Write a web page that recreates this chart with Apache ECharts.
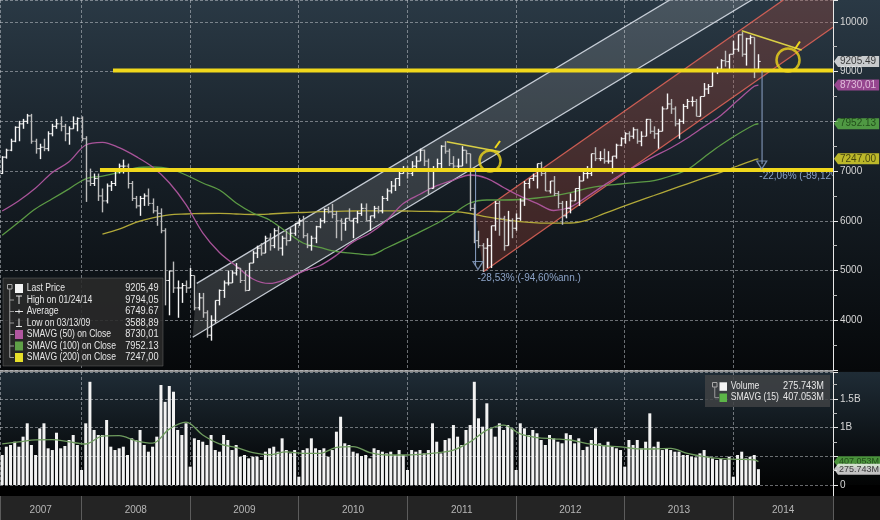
<!DOCTYPE html>
<html><head><meta charset="utf-8">
<script src="https://cdn.jsdelivr.net/npm/echarts@6/dist/echarts.min.js"></script>
<style>html,body{margin:0;padding:0;background:#0a0c0e;}#c{width:880px;height:520px;}</style>
</head><body><div id="c"></div>
<script>
// ================= DATA =================
const barStart = 2007.27;      // decimal year of the first bar
const barStep = 1 / 26;        // two-week bars
const opens = [6950,7280,7420,7600,7880,7950,8000,8110,7600,7450,7480,7450,7750,7900,7950,7900,7750,7850,7950,8060,
7650,6800,6750,6850,6500,6400,6700,6750,7000,7100,7100,6750,6450,6300,6450,6500,6350,6200,6150,5800,
4800,4990,4650,4650,4700,4650,4900,4250,4450,4150,3700,4000,4400,4600,4750,4750,4950,5050,4800,4600,
5150,5350,5450,5350,5650,5500,5800,5450,5650,5600,5750,5950,6000,5700,5500,5650,5880,6000,6230,6180,
6130,6000,5950,6050,6000,6050,6150,6250,6000,6100,6250,6200,6450,6600,6700,6850,6950,7050,6950,7100,
7200,7420,7200,6650,7050,7150,7500,7400,7150,7100,7100,7420,7350,6250,5600,5500,5450,5500,5900,6350,
6050,5500,6000,5850,6050,6400,6750,6850,6900,7150,6950,6600,6800,6550,6350,6100,6250,6400,6650,6800,
6950,6950,7350,7250,7250,7200,7200,7300,7520,7650,7750,7700,7830,7600,7700,8040,7800,7750,7800,8250,
8350,8250,7950,8000,8300,8400,8400,8100,8500,8650,8700,9000,9050,9220,9200,9350,9450,9740,9350,9660,
9690,9050];
const highs = [7300,7450,7650,7900,8010,8050,8150,8150,7650,7550,7650,7800,7950,8050,8100,7950,7900,8100,8080,8100,
7700,7050,6950,6950,6650,6750,6800,7050,7150,7230,7150,6800,6500,6500,6550,6650,6450,6300,6250,5850,
5000,5180,4800,4750,4800,5050,4900,4550,4550,4200,4100,4400,4620,4800,5000,5000,5150,5050,5000,5150,
5400,5500,5550,5700,5750,5850,5890,5700,5800,5850,5950,6050,6100,5750,5700,5900,6050,6250,6280,6340,
6200,6050,6050,6250,6050,6200,6350,6350,6100,6300,6300,6500,6650,6800,6850,7000,7100,7100,7200,7300,
7450,7430,7250,7100,7250,7520,7600,7450,7300,7250,7500,7420,7350,6350,5800,5550,5650,5900,6400,6400,
6100,6200,6050,6150,6450,6800,6850,6950,7150,7190,7000,6800,6900,6600,6400,6400,6550,6650,6900,7000,
7100,7350,7480,7400,7450,7400,7300,7550,7680,7780,7800,7880,7850,7800,8050,8050,7900,7850,8300,8560,
8450,8300,8050,8350,8450,8500,8450,8500,8770,8750,9020,9100,9250,9420,9350,9620,9750,9794,9680,9730,
9690,9350];
const lows = [6940,7250,7400,7580,7600,7850,7950,7550,7350,7240,7400,7400,7700,7850,7800,7600,7530,7850,7800,7600,
6380,6700,6700,6400,6170,6350,6600,6700,6950,6950,6650,6400,6250,6100,6300,6300,6150,5900,5750,4300,
4100,4550,4050,4350,4550,4650,4200,4200,4050,3650,3590,3950,4300,4450,4700,4750,4900,4750,4580,4600,
5150,5250,5300,5350,5400,5450,5400,5300,5500,5600,5700,5900,5650,5450,5400,5550,5850,5950,6150,6050,
5650,5600,5800,6000,5650,5950,6100,6000,5800,6050,6150,6150,6400,6550,6600,6700,6950,6850,6900,7000,
7200,7100,6520,6650,7000,7050,7350,7100,7050,7000,7100,7150,6200,5550,5450,4970,5050,5050,5800,5700,
5400,5500,5650,5800,6000,6300,6650,6800,6650,6900,6600,6550,6500,6250,5920,6050,6150,6400,6300,6800,
6850,6900,7200,7200,7150,7150,6950,7250,7500,7550,7600,7650,7550,7500,7700,7750,7650,7450,7800,8250,
8150,7900,7650,7950,8250,8300,8100,8100,8500,8550,8700,8950,9000,9100,9000,9350,9400,9300,9120,9550,
8870,9050];
const closes = [7280,7420,7600,7880,7950,8000,8110,7600,7450,7480,7450,7750,7900,7950,7900,7750,7850,7950,8060,7650,
6800,6750,6850,6500,6400,6700,6750,7000,7100,7100,6750,6450,6300,6450,6500,6350,6200,6150,5800,4800,
4990,4650,4650,4700,4650,4900,4250,4450,4150,3700,4000,4400,4600,4750,4750,4950,5050,4800,4600,5150,
5350,5450,5350,5650,5500,5800,5450,5650,5600,5750,5950,6000,5700,5500,5650,5880,6000,6230,6180,6130,
6000,5950,6050,6000,6050,6150,6250,6000,6100,6250,6200,6450,6600,6700,6850,6950,7050,6950,7100,7200,
7420,7200,6650,7050,7150,7500,7400,7150,7100,7100,7420,7350,6250,5600,5500,5450,5500,5900,6350,6050,
5500,6000,5850,6050,6400,6750,6850,6900,7150,6950,6600,6800,6550,6350,6100,6250,6400,6650,6800,6950,
6950,7350,7250,7250,7200,7200,7300,7520,7650,7750,7700,7830,7600,7700,8040,7800,7750,7800,8250,8350,
8250,7950,8000,8300,8400,8400,8100,8500,8650,8700,9000,9050,9220,9200,9350,9450,9740,9350,9660,9690,
9050,9205];
const volumes = [523,668,698,755,668,843,1076,698,523,988,1076,640,610,912,640,680,785,872,698,262,
1076,1800,960,872,872,1134,668,610,640,668,523,814,785,960,698,581,668,843,1744,1450,
1727,1627,960,872,1076,320,814,785,755,698,872,610,581,872,785,610,698,494,523,465,
494,494,436,581,640,668,581,814,610,552,610,145,610,640,814,640,610,640,494,610,
930,1191,727,698,581,552,506,523,465,640,610,581,552,581,523,610,523,262,610,581,
610,552,610,1076,755,552,785,814,1046,843,698,960,1046,1800,1163,1017,1425,988,843,1076,
960,1046,988,262,1076,988,872,960,902,785,698,872,814,755,727,902,872,727,814,610,
668,785,988,727,698,755,668,640,610,320,785,698,785,640,755,1250,668,755,610,640,
610,581,581,523,523,494,483,552,610,494,465,436,465,436,494,145,523,581,465,494,
523,276];   // millions
const maStep = 4;   // moving averages read every 4 bars (last value = last bar)
const sma50 = [6197,6404,6660,6971,7187,7524,7579,7470,7295,7082,6766,6326,5759,5363,5091,4830,4740,4830,4985,5097,
5308,5576,5749,6008,6348,6535,6706,6820,6921,6855,6670,6495,6352,6207,6278,6487,6712,6927,7116,7295,
7464,7665,7894,8119,8417,8705,8730];
const sma100 = [5709,5976,6242,6443,6642,6845,6899,6973,7064,7082,7048,6921,6760,6620,6358,6157,6016,5781,5554,5467,
5383,5347,5313,5453,5610,5779,5946,6147,6358,6418,6418,6428,6459,6503,6569,6654,6708,6740,6774,6808,
6901,7030,7279,7524,7740,7931,7952];
const sma200 = [null,null,null,null,null,null,5731,5831,5968,6060,6121,6137,6147,6151,6137,6127,6137,6157,6167,6183,
6191,6197,6201,6201,6197,6191,6187,6183,6147,6077,6024,5984,5958,5952,5956,6016,6143,6270,6392,6509,
6628,6744,6861,6975,7102,7225,7247];
const volSma15 = [719,752,787,790,753,715,853,860,771,729,975,1095,872,717,656,563,528,577,553,553,
656,671,565,523,523,535,562,610,753,956,1045,891,827,806,785,722,685,666,631,628,
638,551,495,460,448,438,407];
const yearLabels = ['2007','2008','2009','2010','2011','2012','2013','2014'];
const priceTicks = [3000, 10440, 1000];      // min, max, step of the price scale
const volTicks = [0, 1971, 500];             // min, max, step of the volume scale (millions)

// drawn annotations (trend tools) : [decimal year, price]
const levelValues = [9020, 7020];
const levelStarts = [2008.29, 2008.17];
const whiteLower = [[2009.024, 3658], [2014.170, 10440]];
const whiteUpper = [[2009.061, 4743], [2013.415, 10440]];
const redLower = [[2011.699, 4977], [2014.918, 9891]];
const redUpper = [[2011.632, 6117], [2014.461, 10440]];
const trendLines = [[[2011.362, 7591], [2011.853, 7390]], [[2014.078, 9823], [2014.630, 9435]]];
const circlePoints = [[2011.761, 7203], [2014.504, 9234]];
const circlePins = [[[2011.807, 7464], [2011.853, 7605]], [[2014.568, 9455], [2014.614, 9606]]];
const measureLines = [[[2011.628, 7022], [2011.628, 5095]], [[2014.265, 9012], [2014.265, 7140]]];
const measureEnds = [[2011.650, 5100], [2014.262, 7122]];
const measureTextPos = [[2011.645, 4850], [2014.240, 6905]];
const measureLabels = ['-28,53% (-94,60%ann.)', '-22,06% (-89,12%)'];

const priceTagValues = [9205.49, 8730.01, 7952.13, 7247.00];
const priceTagTexts = ['9205.49', '8730,01', '7952.13', '7247.00'];
const volTagValues = [407.053, 275.743];
const volTagTexts = ['407.053M', '275.743M'];
const legendLabels = ['Last Price', 'High on 01/24/14', 'Average', 'Low on 03/13/09', 'SMAVG (50) on Close', 'SMAVG (100) on Close', 'SMAVG (200) on Close'];
const legendValues = ['9205,49', '9794,05', '6749.67', '3588,89', '8730,01', '7952.13', '7247,00'];
const volLegendLabels = ['Volume', 'SMAVG (15)'];
const volLegendValues = ['275.743M', '407.053M'];

// ================= STYLE =================
const XMIN = 2007.25, XMAX = 2014.918;
const C50 = '#b0569f', C100 = '#5fa047', C200 = '#b9b03a', YEL = '#f0d81c', MEAS = '#8ca3c7';
const FONT = '"Liberation Sans", Arial, sans-serif';
const tagBg = ['#f2f2f2', '#b44ea6', '#5cb548', '#e6df2a'];
const tagFg = ['#111', '#f4d8ee', '#173a10', '#2a2a08'];
const volTagBg = ['#5cb548', '#f2f2f2'];
const volTagFg = ['#173a10', '#111'];

const n = closes.length;
const tOf = i => barStart + i * barStep;
const maData = arr => arr.map((v, k) => [tOf(Math.min(k * maStep, n - 1)), v]).filter(p => p[1] != null);
// an axis label that sits under a value tag is covered by it (as on the terminal)
const covered = (v, tags, tol) => tags.some(t => Math.abs(t - v) < tol);

const chart = echarts.init(document.getElementById('c'), null, { width: 880, height: 520 });

function channelItem(lower, upper, fill, stroke, corner) {
  return function (params, api) {
    const P = p => api.coord(p);
    const pts = [P(lower[0]), P(lower[1])];
    if (corner) pts.push(P([XMAX, priceTicks[1]]));
    pts.push(P(upper[1]), P(upper[0]));
    return { type: 'group', children: [
      { type: 'polygon', shape: { points: pts }, style: { fill: fill } },
      { type: 'line', shape: { x1: P(lower[0])[0], y1: P(lower[0])[1], x2: P(lower[1])[0], y2: P(lower[1])[1] }, style: { stroke: stroke, lineWidth: 1.3 } },
      { type: 'line', shape: { x1: P(upper[0])[0], y1: P(upper[0])[1], x2: P(upper[1])[0], y2: P(upper[1])[1] }, style: { stroke: stroke, lineWidth: 1.3 } }
    ] };
  };
}

const lineSeg = (data, color, width, z) => ({
  type: 'line', xAxisIndex: 0, yAxisIndex: 0, data: data, symbol: 'none', silent: true, z: z,
  lineStyle: { color: color, width: width }, animation: false
});

const series = [];
series.push({ type: 'custom', xAxisIndex: 0, yAxisIndex: 0, clip: true, z: 1, silent: true, data: [[XMIN, 5000]],
  renderItem: channelItem(whiteLower, whiteUpper, 'rgba(255,255,255,0.14)', 'rgba(225,230,240,0.85)', false) });
series.push({ type: 'custom', xAxisIndex: 0, yAxisIndex: 0, clip: true, z: 1, silent: true, data: [[XMIN, 5000]],
  renderItem: channelItem(redLower, redUpper, 'rgba(165,72,58,0.32)', 'rgba(218,98,86,0.9)', true) });
[[sma200, C200], [sma100, C100], [sma50, C50]].forEach(([arr, col]) => {
  series.push({ type: 'line', xAxisIndex: 0, yAxisIndex: 0, data: maData(arr), symbol: 'none', smooth: 0.35, silent: true, z: 2,
    lineStyle: { color: col, width: 1.3, opacity: 0.95 } });
});
series.push({
  type: 'custom', xAxisIndex: 0, yAxisIndex: 0, z: 3, silent: true,
  encode: { x: 0, y: [1, 2, 3, 4] },
  data: closes.map((c, i) => [tOf(i), opens[i], highs[i], lows[i], c]),
  renderItem: function (params, api) {
    const t = api.value(0), o = api.value(1), h = api.value(2), l = api.value(3), c = api.value(4);
    const pH = api.coord([t, h]), pL = api.coord([t, l]), pO = api.coord([t, o]), pC = api.coord([t, c]);
    const x = Math.round(pH[0]) + 0.5;
    const col = c >= o ? '#f6f6f6' : '#bdbdbd';
    return { type: 'group', children: [
      { type: 'line', shape: { x1: x, y1: pH[1], x2: x, y2: pL[1] }, style: { stroke: col, lineWidth: 1.4 } },
      { type: 'line', shape: { x1: x - 2, y1: pO[1], x2: x, y2: pO[1] }, style: { stroke: col, lineWidth: 1 } },
      { type: 'line', shape: { x1: x, y1: pC[1], x2: x + 2.2, y2: pC[1] }, style: { stroke: col, lineWidth: 1 } }
    ] };
  }
});
trendLines.forEach(seg => series.push(lineSeg(seg, '#d9cf45', 1.5, 4)));
levelValues.forEach((v, i) => series.push(lineSeg([[levelStarts[i], v], [XMAX, v]], YEL, 4, 5)));
circlePins.forEach(seg => series.push(lineSeg(seg, YEL, 2, 6)));
series.push({ type: 'scatter', xAxisIndex: 0, yAxisIndex: 0, z: 6, silent: true, symbol: 'circle',
  data: circlePoints.map((p, i) => ({ value: p, symbolSize: i === 0 ? 21 : 23 })),
  itemStyle: { color: 'rgba(0,0,0,0)', borderColor: YEL, borderWidth: 2.5 } });
measureLines.forEach(seg => series.push(lineSeg(seg, MEAS, 1, 5)));
series.push({ type: 'scatter', xAxisIndex: 0, yAxisIndex: 0, z: 5, silent: true, symbol: 'triangle', symbolRotate: 180,
  symbolSize: [10, 8], data: measureEnds,
  itemStyle: { color: 'rgba(0,0,0,0)', borderColor: MEAS, borderWidth: 1.2 } });
series.push({ type: 'custom', xAxisIndex: 0, yAxisIndex: 0, clip: true, z: 5, silent: true, data: measureTextPos,
  renderItem: function (params, api) {
    const p = api.coord([api.value(0), api.value(1)]);
    return { type: 'text', x: p[0], y: p[1], style: { text: measureLabels[params.dataIndex], fill: MEAS,
      fontSize: 10, fontFamily: FONT, textAlign: 'left', textVerticalAlign: 'middle', align: 'left', verticalAlign: 'middle' } };
  } });
series.push({ type: 'scatter', xAxisIndex: 0, yAxisIndex: 0, zlevel: 1, z: 20, clip: false, silent: true,
  symbol: 'path://M0,5 L4,0 L4,10 Z', symbolSize: [4, 11], symbolOffset: [3, 0],
  data: priceTagValues.map((v, i) => ({ value: [XMAX, v], itemStyle: { color: tagBg[i] },
    label: { show: true, position: 'right', distance: 0, formatter: priceTagTexts[i], color: tagFg[i], backgroundColor: tagBg[i],
      fontSize: 10, fontFamily: FONT, lineHeight: 10, padding: [1, 3, 0, 2] } })) });
// volume panel
series.push({ type: 'bar', xAxisIndex: 1, yAxisIndex: 1, z: 2, silent: true, barWidth: 3,
  data: volumes.map((v, i) => [tOf(i), v]), itemStyle: { color: '#f3f3f3' } });
series.push({ type: 'line', xAxisIndex: 1, yAxisIndex: 1, z: 3, silent: true, symbol: 'none', smooth: 0.35,
  data: maData(volSma15), lineStyle: { color: '#6f9c5f', width: 1.3 } });
series.push({ type: 'scatter', xAxisIndex: 1, yAxisIndex: 1, zlevel: 1, z: 20, clip: false, silent: true,
  symbol: 'path://M0,5 L4,0 L4,10 Z', symbolSize: [4, 11], symbolOffset: [3, 0],
  data: volTagValues.map((v, i) => ({ value: [XMAX, v], itemStyle: { color: volTagBg[i] },
    label: { show: true, position: 'right', distance: 0, formatter: volTagTexts[i], color: volTagFg[i], backgroundColor: volTagBg[i],
      fontSize: 9, fontFamily: FONT, lineHeight: 10, padding: [1, 1, 0, 1] } })) });
// year labels
series.push({ type: 'scatter', xAxisIndex: 2, yAxisIndex: 2, z: 5, silent: true, symbolSize: 1,
  itemStyle: { color: 'rgba(0,0,0,0)' },
  data: yearLabels.map(y => { const a = Math.max(+y, XMIN), b = Math.min(+y + 1, XMAX); return [(a + b) / 2, 0.42]; }),
  label: { show: true, position: 'inside', formatter: p => yearLabels[p.dataIndex], color: '#dadada', fontSize: 10, fontFamily: FONT } });

// ================= GRAPHIC (panels, legends) =================
const G = [];
const grad = stops => ({ type: 'linear', x: 0, y: 0, x2: 0, y2: 1, colorStops: stops.map(s => ({ offset: s[0], color: s[1] })) });
G.push({ type: 'rect', z: -100, silent: true, shape: { x: 0, y: 0, width: 880, height: 371 }, style: { fill: grad([[0, '#2a3945'], [0.5, '#151d24'], [1, '#06080a']]) } });
G.push({ type: 'rect', z: -100, silent: true, shape: { x: 0, y: 372, width: 880, height: 113 }, style: { fill: grad([[0, '#1f2c36'], [0.7, '#0a0e11'], [1, '#030404']]) } });
G.push({ type: 'rect', z: -90, silent: true, shape: { x: 0, y: 370, width: 833, height: 2 }, style: { fill: '#8e8e8e' } });
G.push({ type: 'rect', z: -100, silent: true, shape: { x: 0, y: 485, width: 880, height: 11 }, style: { fill: '#000' } });
G.push({ type: 'rect', z: -100, silent: true, shape: { x: 0, y: 496, width: 833, height: 24 }, style: { fill: '#242424' } });
G.push({ type: 'rect', z: -100, silent: true, shape: { x: 833, y: 496, width: 47, height: 24 }, style: { fill: '#151515' } });
G.push({ type: 'line', z: 50, silent: true, shape: { x1: 833.5, y1: 485, x2: 833.5, y2: 496 }, style: { stroke: '#e8e8e8', lineWidth: 1 } });

const T = (x, y, text, align, sx) => ({ type: 'text', x: x, y: y, z: 101, silent: true, scaleX: sx || 1,
  style: { text: text, fill: '#e6e6e6', fontSize: 10, fontFamily: FONT, textAlign: align, textVerticalAlign: 'middle', align: align, verticalAlign: 'middle' } });
const L = (x1, y1, x2, y2, c, w) => ({ type: 'line', z: 101, silent: true, shape: { x1: x1, y1: y1, x2: x2, y2: y2 }, style: { stroke: c || '#e6e6e6', lineWidth: w || 1 } });
const R = (x, y, w, h, fill, stroke) => ({ type: 'rect', z: 100, silent: true, shape: { x: x, y: y, width: w, height: h }, style: { fill: fill, stroke: stroke || null, lineWidth: 1 } });

// price legend
const rowY = [288.5, 300, 311.5, 323, 334.5, 346, 357.5];
G.push(R(3, 278, 160, 88, 'rgba(42,42,42,0.88)', 'rgba(110,110,110,0.45)'));
G.push(R(7.5, 284.5, 4.5, 4.5, 'rgba(0,0,0,0)', '#a8a8a8'));
G.push(L(9.75, 289, 9.75, 357.5, '#9a9a9a'));
rowY.slice(1).forEach(y => G.push(L(9.75, y, 14, y, '#9a9a9a')));
G.push(R(15, 284, 8, 9, '#f4f4f4'));
G.push(L(16, 296, 22, 296), L(19, 296, 19, 304));
G.push(L(15, 311.5, 23, 311.5), L(19, 309.5, 19, 313.5));
G.push(L(19, 318.5, 19, 326.5), L(16, 326.5, 22, 326.5));
G.push(R(15, 330, 8, 9, C50), R(15, 341.5, 8, 9, C100), R(15, 353, 8, 9, '#e6df2a'));
legendLabels.forEach((s, i) => G.push(T(26.7, rowY[i], s, 'left', 0.86)));
legendValues.forEach((s, i) => G.push(T(158.5, rowY[i], s, 'right', 0.92)));
// volume legend
G.push(R(705, 375, 125, 32, 'rgba(64,66,68,0.85)'));
G.push(R(712.5, 382.5, 4.5, 4.5, 'rgba(0,0,0,0)', '#a8a8a8'));
G.push(L(714.75, 387, 714.75, 397.7, '#9a9a9a'), L(714.75, 397.7, 719, 397.7, '#9a9a9a'));
G.push(R(719.5, 382.3, 7.5, 8.5, '#f4f4f4'), R(719.5, 393.5, 7.5, 8.5, '#5cb548'));
volLegendLabels.forEach((s, i) => G.push(T(730.7, [386.7, 397.7][i], s, 'left', 0.86)));
volLegendValues.forEach((s, i) => G.push(T(824, [386.7, 397.7][i], s, 'right', 0.92)));

// ================= AXES =================
const gridLine = { show: true, lineStyle: { color: 'rgba(205,210,215,0.5)', type: [3, 2], width: 1 } };
const hidden = { axisLine: { show: false }, axisTick: { show: false }, axisLabel: { show: false } };
const xBase = { type: 'value', min: XMIN, max: XMAX, splitNumber: 8 };

chart.setOption({
  animation: false,
  textStyle: { fontFamily: FONT },
  grid: [
    { left: 0, top: 0, width: 833, height: 370 },
    { left: 0, top: 372, width: 833, height: 113 },
    { left: 0, top: 496, width: 833, height: 24 }
  ],
  xAxis: [
    Object.assign({ gridIndex: 0, splitLine: gridLine }, xBase, hidden),
    Object.assign({ gridIndex: 1, splitLine: gridLine }, xBase, hidden),
    { gridIndex: 2, type: 'value', position: 'top', min: XMIN, max: XMAX, interval: 0.25,
      axisLine: { show: true, lineStyle: { color: '#d2d2d2', width: 1 } },
      axisTick: { show: true, inside: true, length: 4, lineStyle: { color: '#c8c8c8' } },
      axisLabel: { show: false }, splitLine: { show: false } },
    Object.assign({ gridIndex: 2, splitLine: { show: true, lineStyle: { color: '#5c5c5c', width: 1 } } }, xBase, hidden)
  ],
  yAxis: [
    { gridIndex: 0, type: 'value', position: 'right', min: priceTicks[0], max: priceTicks[1], interval: priceTicks[2],
      axisLine: { show: true, lineStyle: { color: '#e8e8e8', width: 1 } },
      axisTick: { show: true, length: 5, lineStyle: { color: '#e8e8e8' } },
      minorTick: { show: true, splitNumber: 2, length: 4, lineStyle: { color: '#bdbdbd' } },
      axisLabel: { show: true, color: '#d6d6d6', fontSize: 10, fontFamily: FONT, margin: 7, showMinLabel: false, showMaxLabel: false,
        formatter: v => covered(v, priceTagValues, 120) ? '' : String(v) },
      splitLine: gridLine },
    { gridIndex: 1, type: 'value', position: 'right', min: volTicks[0], max: volTicks[1], interval: volTicks[2],
      axisLine: { show: true, lineStyle: { color: '#e8e8e8', width: 1 } },
      axisTick: { show: true, length: 5, lineStyle: { color: '#e8e8e8' } },
      minorTick: { show: true, splitNumber: 2, length: 4, lineStyle: { color: '#bdbdbd' } },
      axisLabel: { show: true, color: '#d6d6d6', fontSize: 10, fontFamily: FONT, margin: 7, showMaxLabel: false,
        formatter: v => covered(v, volTagValues, 120) ? '' : (v === 0 ? '0' : (v / 1000) + 'B') },
      splitLine: gridLine },
    Object.assign({ gridIndex: 2, type: 'value', min: 0, max: 1, splitLine: { show: false } }, hidden)
  ],
  graphic: G,
  series: series
});
</script></body></html>
